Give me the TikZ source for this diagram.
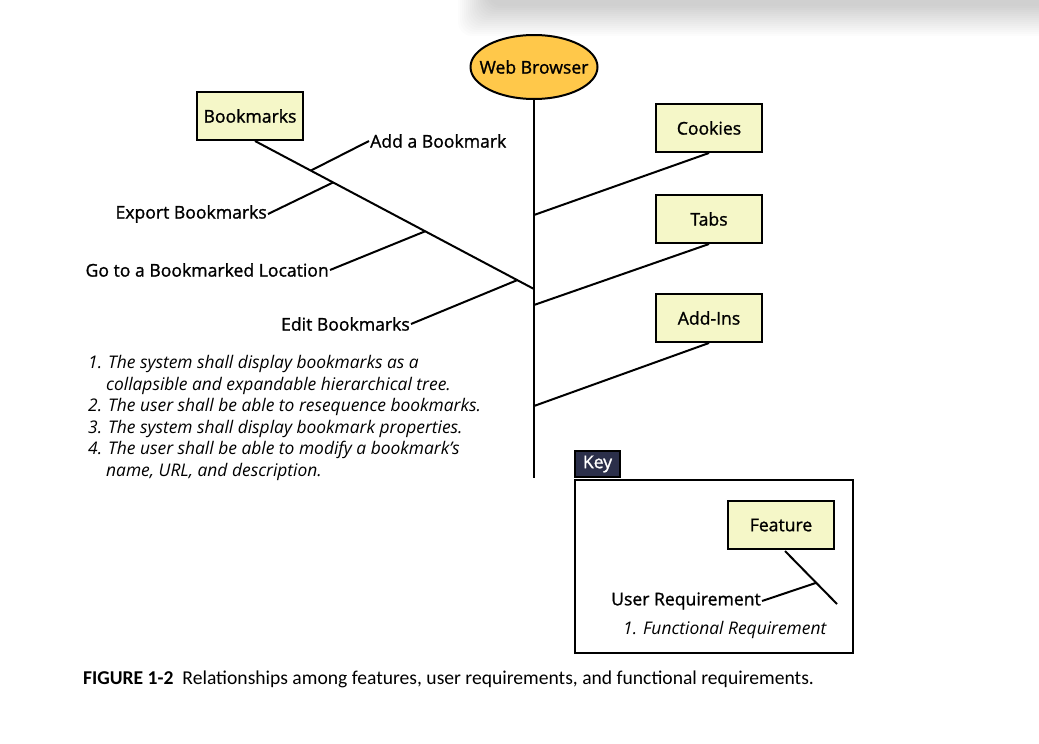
\documentclass[tikz,border=0pt]{standalone}
\usepackage{fontspec}
\setmainfont{Open Sans}
\newfontfamily\lblfont{Open Sans}[FakeBold=1.2]
\newfontfamily\capfont{Carlito}
\usetikzlibrary{shapes.geometric,calc}
\definecolor{featfill}{RGB}{245,247,200}
\definecolor{wbfill}{RGB}{255,200,74}
\definecolor{keyfill}{RGB}{43,47,74}
\tikzset{
  feat/.style={draw=black, line width=2pt, fill=featfill, minimum width=106pt, minimum height=48pt, inner sep=0pt, font=\lblfont\fontsize{17.6}{20}\selectfont},
  conn/.style={line width=2pt},
  lbl/.style={inner sep=1pt, font=\lblfont\fontsize{17.6}{20}\selectfont},
  req/.style={inner sep=0pt, font=\fontsize{17.4}{21.6}\selectfont\itshape, align=left},
  shadowlayer/.style={fill=black, fill opacity=0.011, draw=none, rounded corners=14pt}
}
\begin{document}
\begin{tikzpicture}[x=1pt,y=-1pt]
\useasboundingbox (0,0) rectangle (1039,744);
% soft page shadow at the top
\foreach \i in {0,...,15} {
  \path[shadowlayer] ({458+\i*2},-40) rectangle (1080,{36-\i*2});
}
% main spine
\node[ellipse, draw=black, line width=2pt, fill=wbfill, minimum width=127pt, minimum height=64pt, inner sep=0pt, font=\lblfont\fontsize{17.6}{20}\selectfont] (wb) at (534,67) {\makebox[0pt]{Web Browser}};
\coordinate (vbot) at (534,478);
\draw[conn] (wb.south) -- (vbot);
% features
\node[feat] (bm) at (250,116) {Bookmarks};
\node[feat] (ck) at (709,128) {Cookies};
\node[feat] (tb) at (709,219) {Tabs};
\node[feat] (ai) at (709,318) {Add-Ins};
\coordinate (jc) at (534,215);
\coordinate (jt) at (534,305);
\coordinate (ja) at (534,406);
\coordinate (jb) at (534,289);
\coordinate (bmfoot) at (255,141);
\draw[conn] (ck.south) -- (jc);
\draw[conn] (tb.south) -- (jt);
\draw[conn] (ai.south) -- (ja);
\draw[conn] (bmfoot) -- (jb);
% user requirements
\node[lbl, anchor=west] (ur1) at (369,141) {Add a Bookmark};
\node[lbl, anchor=east] (ur2) at (268,214) {Export Bookmarks};
\node[lbl, anchor=east] (ur3) at (330,270) {Go to a Bookmarked Location};
\node[lbl, anchor=east] (ur4) at (411,324) {Edit Bookmarks};
\coordinate (d1) at ($(bmfoot)!0.20!(jb)$);
\coordinate (d2) at ($(bmfoot)!0.28!(jb)$);
\coordinate (d3) at ($(bmfoot)!0.61!(jb)$);
\coordinate (d4) at ($(bmfoot)!0.94!(jb)$);
\draw[conn] (ur1.west) -- (d1);
\draw[conn] (ur2.east) -- (d2);
\draw[conn] (ur3.east) -- (d3);
\draw[conn] (ur4.east) -- (d4);
% functional requirements
\node[req, anchor=north west] (fr) at (88,355) {%
1. The system shall display bookmarks as a\\
\hspace*{18pt}collapsible and expandable hierarchical tree.\\
2. The user shall be able to resequence bookmarks.\\
3. The system shall display bookmark properties.\\
4. The user shall be able to modify a bookmark's\\
\hspace*{18pt}name, URL, and description.};
% key
\node[draw=black, line width=2pt, fill=keyfill, text=white, minimum width=45pt, minimum height=26pt, inner sep=0pt, anchor=south west, font=\lblfont\fontsize{17.6}{20}\selectfont] (keytab) at (574,478) {Key};
\node[draw=black, line width=2pt, minimum width=278pt, minimum height=173pt, inner sep=0pt, anchor=north west] (keybox) at (574,479) {};
\node[feat] (kf) at (781,525) {Feature};
\coordinate (kend) at (837,604);
\coordinate (kfoot) at (785,551);
\draw[conn] (kfoot) -- (kend);
\node[lbl, anchor=east] (kur) at (762,601) {User Requirement};
\coordinate (kd) at ($(kfoot)!0.6!(kend)$);
\draw[conn] (kur.east) -- (kd);
\node[inner sep=0pt, anchor=west, font=\fontsize{17.4}{20}\selectfont\itshape] (kfr) at (623,630) {1. Functional Requirement};
% caption
\node[inner sep=0pt, anchor=west, font=\capfont\fontsize{19.6}{22}\selectfont] (cap) at (83,679) {\textbf{FIGURE 1-2}\ \ Relationships among features, user requirements, and functional requirements.};
\end{tikzpicture}
\end{document}
